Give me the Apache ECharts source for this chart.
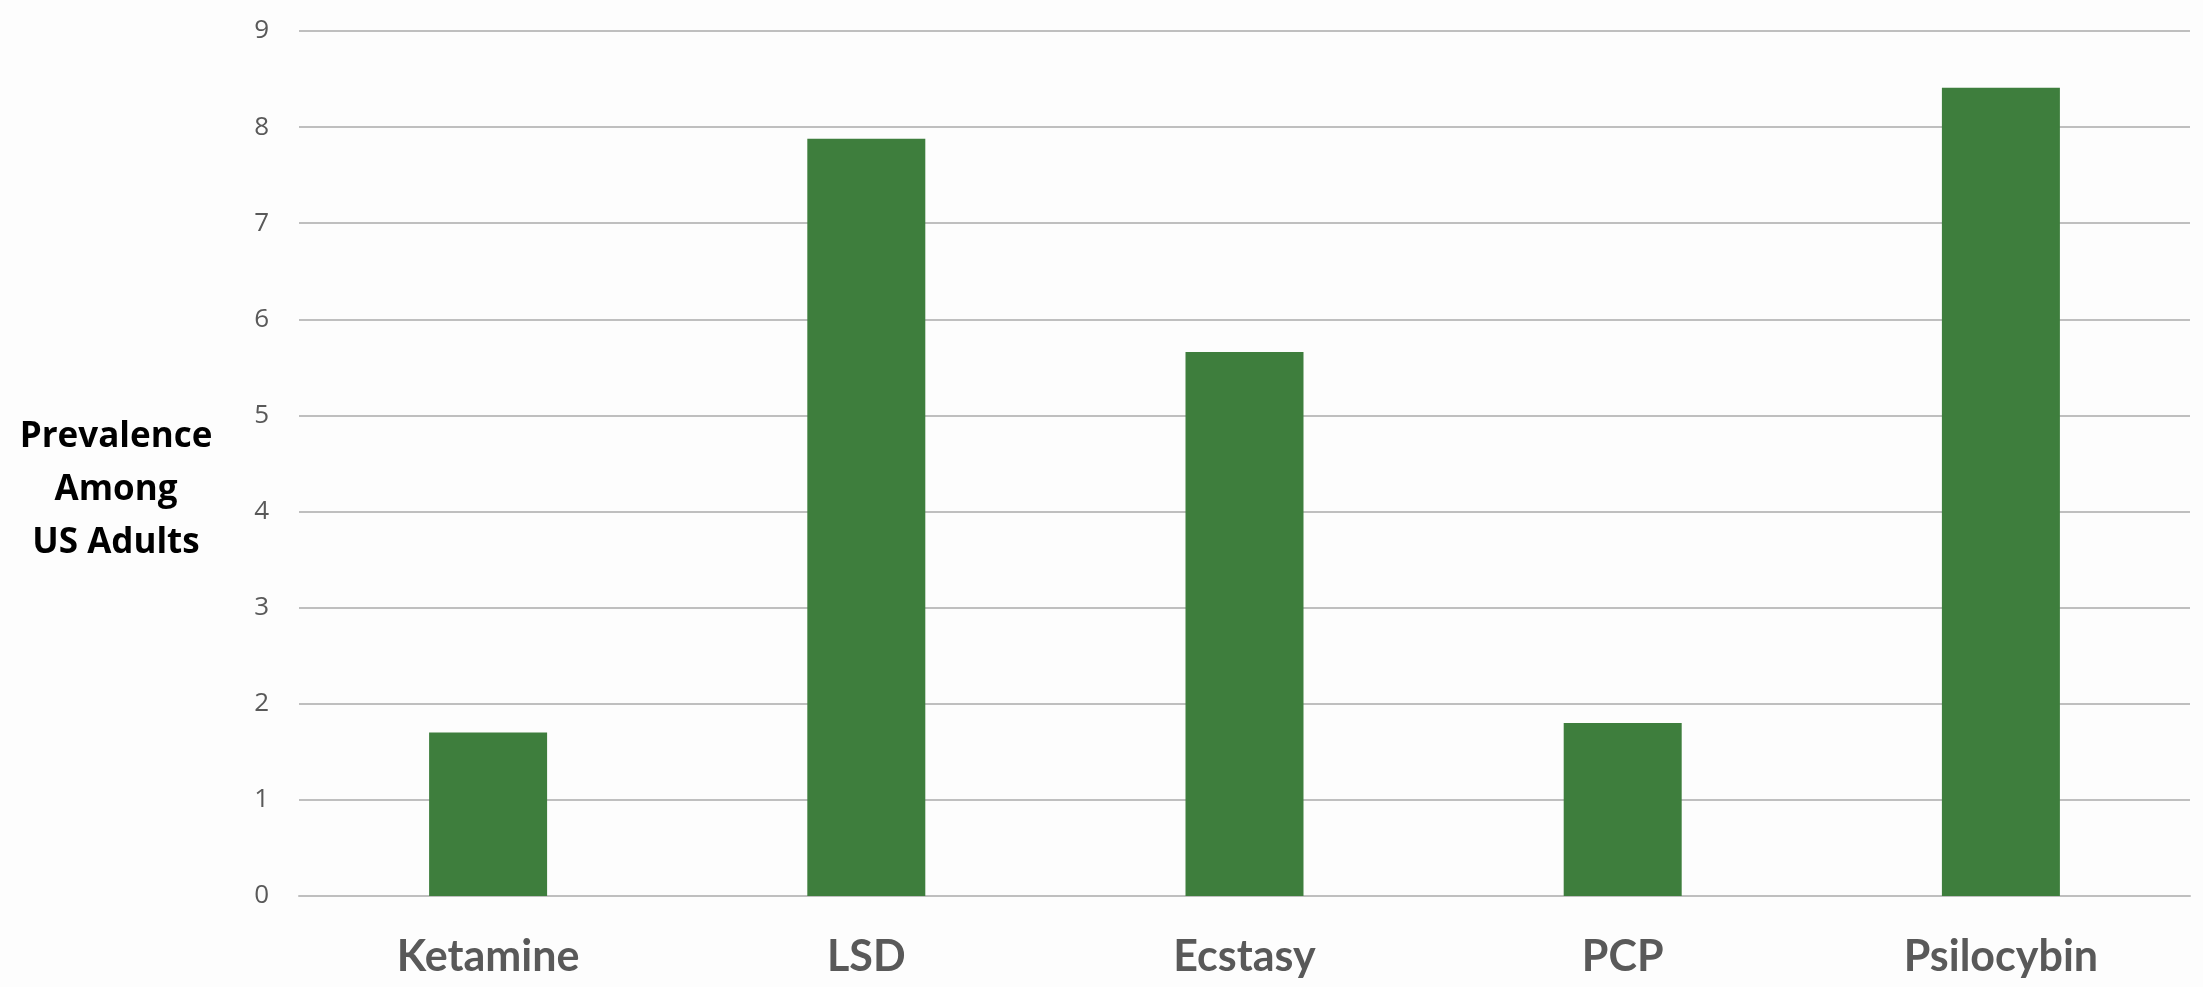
<!DOCTYPE html>
<html>
<head>
<meta charset="utf-8">
<script src="https://cdn.jsdelivr.net/npm/echarts@6/dist/echarts.min.js"></script>
<style>
  html, body { margin: 0; padding: 0; background: #fdfdfd; }
  #chart { width: 2203px; height: 987px; }
</style>
</head>
<body>
<div id="chart"></div>
<script>
// Substances on the category axis
const categories = ['Ketamine', 'LSD', 'Ecstasy', 'PCP', 'Psilocybin'];
// Lifetime prevalence among US adults (%)
const prevalence = [1.7, 7.88, 5.66, 1.8, 8.41];
// Value axis range
const yMin = 0;
const yMax = 9;
const yStep = 1;
// Value axis title, one entry per line
const yTitleLines = ['Prevalence', 'Among', 'US Adults'];

const chart = echarts.init(document.getElementById('chart'), null, { renderer: 'canvas' });

chart.setOption({
  backgroundColor: '#fdfdfd',
  animation: false,
  grid: { left: 299, right: 13, top: 31, bottom: 91, containLabel: false },
  // Horizontal, centre-aligned title beside the value axis
  graphic: [{
    type: 'text',
    x: 116,
    y: 490,
    style: {
      text: yTitleLines.join('\n'),
      x: 0,
      y: 0,
      align: 'center',
      verticalAlign: 'middle',
      fontFamily: 'Open Sans',
      fontWeight: 'bold',
      fontSize: 35,
      lineHeight: 53,
      fill: '#000000'
    }
  }],
  xAxis: {
    type: 'category',
    data: categories,
    axisLine: { show: true, lineStyle: { color: '#bfbfbf', width: 2 } },
    axisTick: { show: false },
    axisLabel: {
      margin: 40,
      fontFamily: 'Lato',
      fontWeight: 'bold',
      fontSize: 43,
      color: '#595959'
    }
  },
  yAxis: {
    type: 'value',
    min: yMin,
    max: yMax,
    interval: yStep,
    axisLine: { show: false },
    axisTick: { show: false },
    axisLabel: {
      margin: 30,
      fontFamily: 'Open Sans',
      fontSize: 26,
      color: '#595959'
    },
    splitLine: { show: true, lineStyle: { color: '#bfbfbf', width: 2 } }
  },
  series: [{
    type: 'bar',
    data: prevalence,
    barWidth: '31.2%',
    itemStyle: { color: '#3e7e3d' }
  }]
});
</script>
</body>
</html>
